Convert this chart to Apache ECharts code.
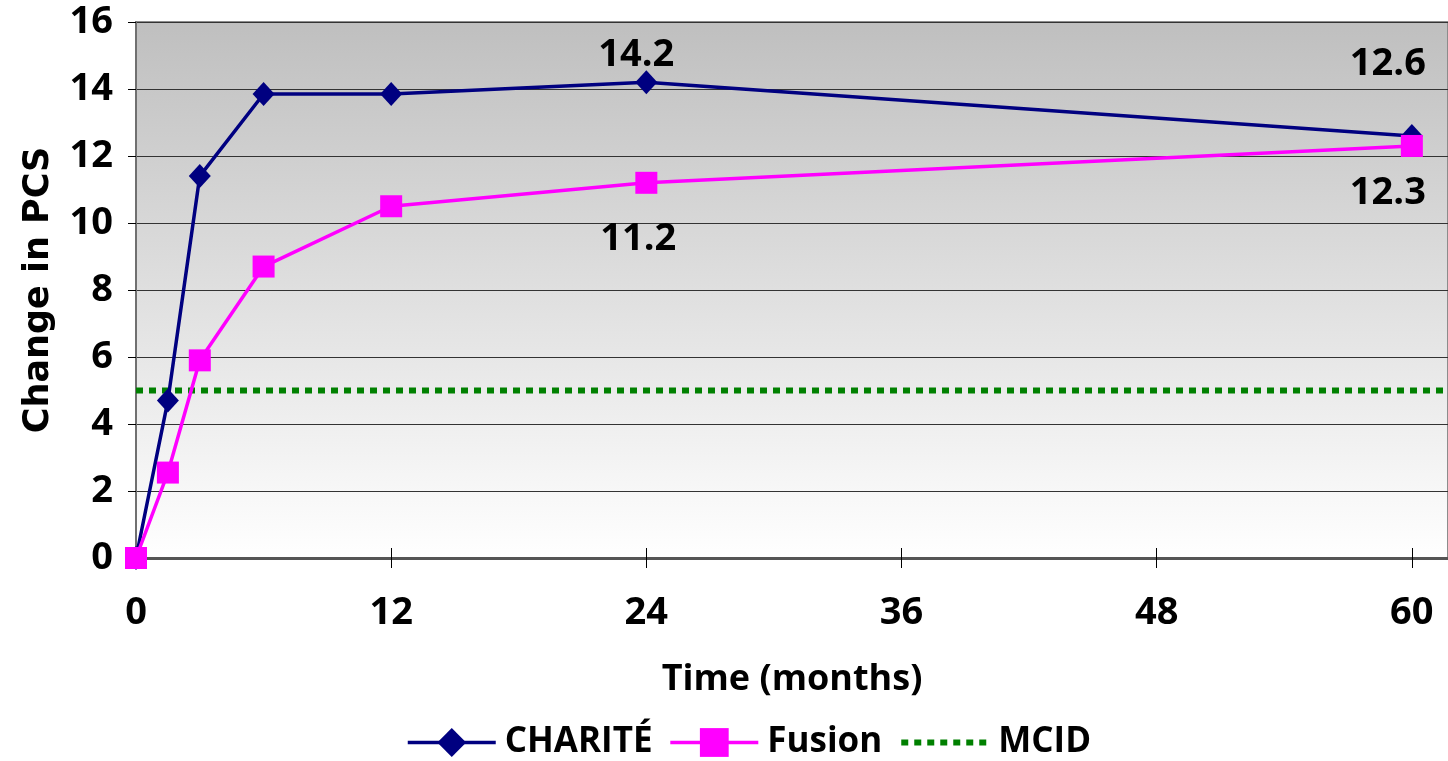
<!DOCTYPE html>
<html>
<head>
<meta charset="utf-8">
<script src="https://cdn.jsdelivr.net/npm/echarts@6/dist/echarts.min.js"></script>
<style>
html,body{margin:0;padding:0;background:#fff;}
#chart{width:1448px;height:761px;}
</style>
</head>
<body>
<div id="chart"></div>
<script>
// ---- data ----
const months = [0, 1.5, 3, 6, 12, 24, 60];
const chariteValues = [0, 4.7, 11.4, 13.85, 13.85, 14.2, 12.6];
const fusionValues = [0, 2.55, 5.9, 8.7, 10.5, 11.2, 12.3];
const mcidValue = 5;
const xTicks = [0, 12, 24, 36, 48, 60];
const yTicks = [0, 2, 4, 6, 8, 10, 12, 14, 16];
const seriesNames = ['CHARITÉ', 'Fusion', 'MCID'];
const xTitle = 'Time (months)';
const yTitle = 'Change in PCS';

// ---- options ----
const X_MAX = 61.7; // plot area runs slightly past 60 months to the right edge
const labelFont = {fontFamily: 'Open Sans', fontWeight: 'bold', fontSize: 38, lineHeight: 38, color: '#000'};

const chariteLabels = {
  5: {show: true, position: 'top', offset: [-10, 9]},
  6: {show: true, position: 'top', offset: [-24, -36]}
};
const fusionLabels = {
  5: {show: true, position: 'bottom', offset: [-8, 21]},
  6: {show: true, position: 'bottom', offset: [-24, 12]}
};
function build(vals, labels) {
  return months.map((m, i) => {
    const item = {value: [m, vals[i]]};
    if (labels[i]) item.label = Object.assign({}, labelFont, labels[i], {
      formatter: p => p.value[1].toFixed(1)
    });
    return item;
  });
}

const chart = echarts.init(document.getElementById('chart'));
chart.setOption({
  animation: false,
  backgroundColor: '#ffffff',
  grid: {
    left: 136, top: 22, bottom: 203, right: 0,
    show: true,
    borderColor: '#8c8c8c', borderWidth: 2,
    backgroundColor: new echarts.graphic.LinearGradient(0, 0, 0, 1, [
      {offset: 0, color: '#bfbfbf'},
      {offset: 1, color: '#ffffff'}
    ])
  },
  legend: {
    data: [
      {name: seriesNames[0], lineStyle: {width: 3.5}},
      {name: seriesNames[1], lineStyle: {width: 3.5}},
      {name: seriesNames[2], lineStyle: {width: 6, type: [7, 6]}, itemStyle: {opacity: 0}}
    ],
    left: 401, top: 720,
    itemWidth: 88, itemHeight: 36, itemGap: 16,
    textStyle: {fontFamily: 'Open Sans', fontWeight: 'bold', fontSize: 35, color: '#000', padding: [0, 0, 0, 4]}
  },
  xAxis: [{
    type: 'value', min: 0, max: X_MAX, interval: 12,
    name: xTitle, nameLocation: 'middle', nameGap: 104,
    nameTextStyle: {fontFamily: 'Open Sans', fontWeight: 'bold', fontSize: 36, color: '#000'},
    axisLine: {show: true, onZero: false, lineStyle: {color: '#555', width: 3}},
    axisTick: {show: true, inside: false, length: 10, customValues: xTicks, lineStyle: {color: '#000', width: 1}},
    axisLabel: {
      margin: 36, fontFamily: 'Open Sans', fontWeight: 'bold', fontSize: 38, color: '#000',
      customValues: xTicks
    },
    splitLine: {show: false}
  }, {
    type: 'value', min: 0, max: X_MAX, interval: 12, position: 'bottom',
    axisLine: {show: false},
    axisTick: {show: true, inside: true, length: 10, customValues: xTicks, lineStyle: {color: '#000', width: 1}},
    axisLabel: {show: false},
    splitLine: {show: false}
  }],
  yAxis: {
    type: 'value', min: yTicks[0], max: yTicks[yTicks.length - 1], interval: 2,
    name: yTitle, nameLocation: 'middle', nameGap: 80, nameRotate: 90,
    nameTextStyle: {fontFamily: 'DejaVu Sans', fontWeight: 'bold', fontSize: 35, color: '#000'},
    axisLine: {show: true, lineStyle: {color: '#707070', width: 2}},
    axisTick: {show: true, inside: false, length: 8, lineStyle: {color: '#000', width: 1}},
    axisLabel: {margin: 23, fontFamily: 'Open Sans', fontWeight: 'bold', fontSize: 38, color: '#000'},
    splitLine: {show: true, lineStyle: {color: '#333', width: 1}}
  },
  series: [{
    name: seriesNames[2], type: 'line', z: 1,
    data: [[0, mcidValue], [X_MAX, mcidValue]],
    symbol: 'none',
    lineStyle: {color: '#008000', width: 6, type: [7, 6]},
    itemStyle: {color: '#008000'}
  }, {
    name: seriesNames[0], type: 'line', z: 2,
    data: build(chariteValues, chariteLabels),
    symbol: 'diamond', symbolSize: [22, 24],
    lineStyle: {color: '#000080', width: 3.5},
    itemStyle: {color: '#000080'},
    label: {show: false}
  }, {
    name: seriesNames[1], type: 'line', z: 3,
    data: build(fusionValues, fusionLabels),
    symbol: 'rect', symbolSize: 22,
    lineStyle: {color: '#ff00ff', width: 3.5},
    itemStyle: {color: '#ff00ff'},
    label: {show: false}
  }]
});
</script>
</body>
</html>
